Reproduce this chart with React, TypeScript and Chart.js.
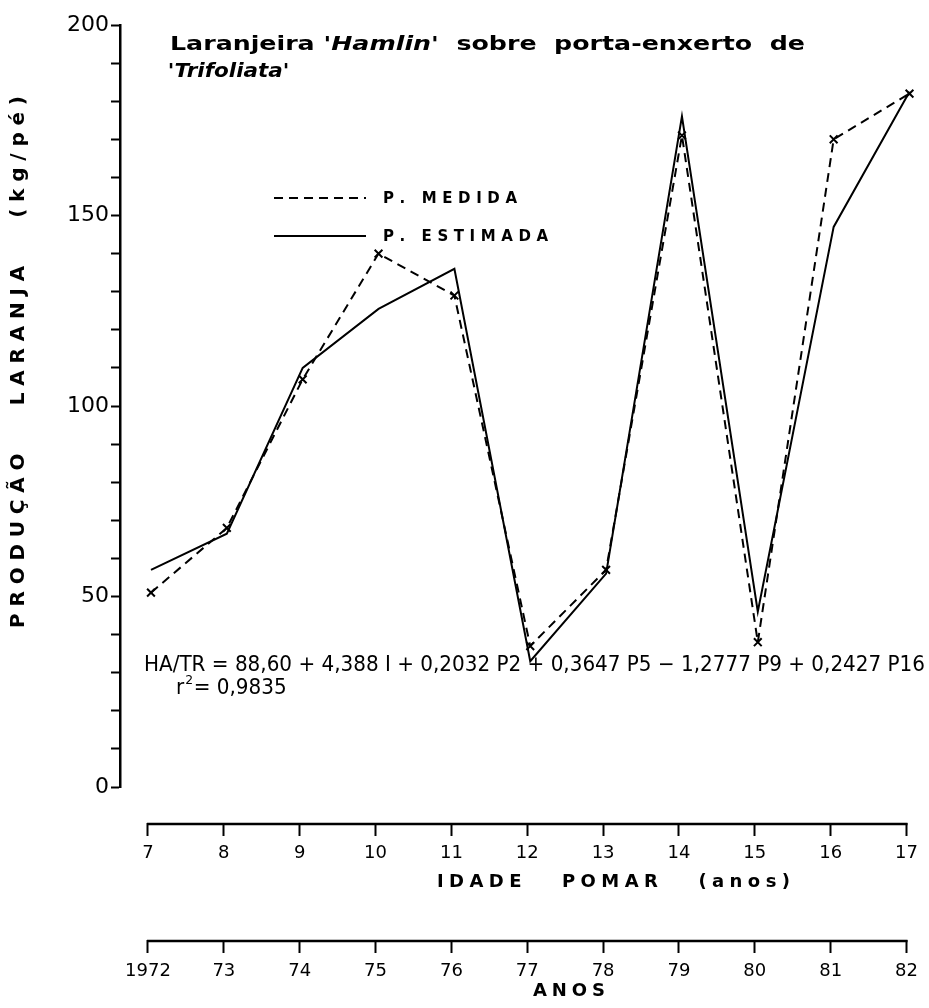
import React, { useEffect, useRef } from 'react';
import { Chart, registerables } from 'chart.js';

Chart.register(...registerables);

// ---- data ----
const ages = [7, 8, 9, 10, 11, 12, 13, 14, 15, 16, 17];
const ageLabels = ['7', '8', '9', '10', '11', '12', '13', '14', '15', '16', '17'];
const years = [1972, 1973, 1974, 1975, 1976, 1977, 1978, 1979, 1980, 1981, 1982];
const yearLabels = ['1972', '73', '74', '75', '76', '77', '78', '79', '80', '81', '82'];
const medida = [51, 68, 107, 140, 129, 37, 57, 171, 38, 170, 182];
const estimada = [57, 66.5, 110, 125.5, 136, 33, 56, 176, 46, 147, 182.5];
const yMajorTicks = [0, 50, 100, 150, 200];
const seriesNames = ['P. MEDIDA', 'P. ESTIMADA'];
const titleParts = [
  { text: 'Laranjeira ', italic: false },
  { text: "'Hamlin'", italic: true },
  { text: '  sobre  porta-enxerto  de', italic: false },
];
const titleLine2 = "'Trifoliata'";
const yTitle = 'PRODUÇÃO   LARANJA   (kg/pé)';
const ageTitle = 'IDADE   POMAR   (anos)';
const yearTitle = 'ANOS';
const equationText = 'HA/TR = 88,60 + 4,388 I + 0,2032 P2 + 0,3647 P5 − 1,2777 P9 + 0,2427 P16';
const r2Value = '= 0,9835';

const FONT = '"DejaVu Sans", sans-serif';

function drawSpacedFit(ctx: CanvasRenderingContext2D, text: string, x: number, y: number, target: number) {
  const chars = Array.from(text);
  const widths = chars.map((c) => ctx.measureText(c).width);
  const natural = widths.reduce((a, b) => a + b, 0);
  const spacing = chars.length > 1 ? (target - natural) / (chars.length - 1) : 0;
  let cx = x;
  chars.forEach((c, i) => {
    ctx.fillText(c, cx, y);
    cx += widths[i] + spacing;
  });
}

const extrasPlugin = {
  id: 'extras',
  afterDraw(chart: any) {
    const ctx: CanvasRenderingContext2D = chart.ctx;
    const ageS = chart.scales.age;
    const yearS = chart.scales.year;
    ctx.save();
    ctx.strokeStyle = '#000';
    ctx.fillStyle = '#000';
    ctx.lineCap = 'butt';

    // bottom axis lines
    ctx.lineWidth = 2.5;
    ([[ageS, ages], [yearS, years]] as any[]).forEach(([s, vals]) => {
      const x0 = s.getPixelForValue(vals[0]);
      const x1 = s.getPixelForValue(vals[vals.length - 1]);
      ctx.beginPath();
      ctx.moveTo(x0 - 1, s.top + 1);
      ctx.lineTo(x1 + 1, s.top + 1);
      ctx.stroke();
    });

    // bottom axis titles
    ctx.textBaseline = 'middle';
    ctx.textAlign = 'left';
    ctx.font = `bold 18px ${FONT}`;
    drawSpacedFit(ctx, ageTitle, 437, ageS.top + 59, 353);
    ctx.font = `bold 18px ${FONT}`;
    drawSpacedFit(ctx, yearTitle, 533, yearS.top + 51, 72);

    // y title (rotated)
    ctx.save();
    ctx.font = `bold 20px ${FONT}`;
    ctx.translate(19, 362);
    ctx.rotate(-Math.PI / 2);
    drawSpacedFit(ctx, yTitle, -266, 0, 532);
    ctx.restore();

    // chart title
    ctx.save();
    let total = 0;
    const fonts = titleParts.map((p) => `${p.italic ? 'italic ' : ''}bold 20px ${FONT}`);
    titleParts.forEach((p, i) => {
      ctx.font = fonts[i];
      total += ctx.measureText(p.text).width;
    });
    const sx = 635 / total;
    ctx.translate(170, 45);
    ctx.scale(sx, 1);
    let cx = 0;
    titleParts.forEach((p, i) => {
      ctx.font = fonts[i];
      ctx.fillText(p.text, cx, 0);
      cx += ctx.measureText(p.text).width;
    });
    ctx.scale(0.85, 1);
    ctx.font = `italic bold 20px ${FONT}`;
    ctx.fillText(titleLine2, -2, 27);
    ctx.restore();

    // legend
    const ds = chart.data.datasets;
    const legendRows = [198, 236];
    const legendWidths = [134, 165];
    legendRows.forEach((ly, i) => {
      ctx.save();
      ctx.lineWidth = 2;
      ctx.setLineDash(ds[i].borderDash || []);
      ctx.beginPath();
      ctx.moveTo(274, ly);
      ctx.lineTo(366, ly);
      ctx.stroke();
      ctx.restore();
      ctx.font = `bold 15px ${FONT}`;
      drawSpacedFit(ctx, seriesNames[i], 383, ly + 1, legendWidths[i]);
    });

    // equation (tall, condensed lettering)
    ctx.save();
    ctx.font = `21px ${FONT}`;
    const ew = ctx.measureText(equationText).width;
    const esx = 781 / ew;
    ctx.translate(144, 666);
    ctx.scale(esx, 1);
    ctx.fillText(equationText, 0, 0);
    ctx.restore();

    // r^2
    ctx.save();
    ctx.translate(176, 689);
    ctx.scale(esx, 1);
    ctx.font = `21px ${FONT}`;
    ctx.fillText('r', 0, 0);
    const rw = ctx.measureText('r').width;
    ctx.font = `13px ${FONT}`;
    ctx.fillText('2', rw + 1, -8);
    ctx.font = `21px ${FONT}`;
    ctx.fillText(r2Value, rw + 10, 0);
    ctx.restore();

    ctx.restore();
  },
};

// pixel placement of the scales (page coordinates)
const AREA_LEFT = 120;
const AREA_RIGHT = 922;
const axisRange = (first: number, last: number, pFirst: number, pLast: number) => {
  const u = (pLast - pFirst) / (last - first);
  const min = first - (pFirst - AREA_LEFT) / u;
  const max = min + (AREA_RIGHT - AREA_LEFT) / u;
  return { min, max };
};

const bottomAxis = (weight: number, range: { min: number; max: number }, values: number[], labels: string[], height: number, padding: number) => ({
  type: 'linear',
  position: 'bottom',
  weight,
  min: range.min,
  max: range.max,
  border: { display: false },
  grid: {
    display: true,
    drawOnChartArea: false,
    drawTicks: true,
    tickLength: 13,
    tickWidth: 2,
    tickColor: '#000',
    color: '#000',
  },
  ticks: {
    stepSize: 1,
    includeBounds: false,
    autoSkip: false,
    maxRotation: 0,
    color: '#000',
    padding,
    font: { family: FONT, size: 18 },
    callback: (v: any) => {
      const i = values.indexOf(Math.round(v));
      return i >= 0 ? labels[i] : '';
    },
  },
  afterFit: (s: any) => {
    s.height = height;
  },
});

const spacer = (weight: number, height: number) => ({
  type: 'linear',
  position: 'bottom',
  weight,
  grid: { display: false },
  border: { display: false },
  ticks: { display: false },
  afterFit: (s: any) => {
    s.height = height;
  },
});

export default function App() {
  const ref = useRef<HTMLCanvasElement | null>(null);

  useEffect(() => {
    if (!ref.current) return;
    const ageRange = axisRange(7, 17, 148, 907);
    const yearRange = axisRange(1972, 1982, 148, 907);
    const dataRange = axisRange(7, 17, 151, 910);

    const chart = new Chart(ref.current, {
      type: 'line',
      data: {
        datasets: [
          {
            label: seriesNames[0],
            data: ages.map((a, i) => ({ x: a, y: medida[i] })),
            borderColor: '#000',
            backgroundColor: '#000',
            borderWidth: 2,
            borderDash: [9, 6],
            pointStyle: 'crossRot',
            pointRadius: 5.5,
            pointBorderWidth: 2,
            pointBorderColor: '#000',
            tension: 0,
            fill: false,
          },
          {
            label: seriesNames[1],
            data: ages.map((a, i) => ({ x: a, y: estimada[i] })),
            borderColor: '#000',
            backgroundColor: '#000',
            borderWidth: 2,
            pointRadius: 0,
            tension: 0,
            fill: false,
          },
        ],
      },
      options: {
        animation: false,
        responsive: false,
        maintainAspectRatio: false,
        layout: { padding: { left: 0, right: 929 - AREA_RIGHT, top: 25, bottom: 0 } },
        plugins: {
          legend: { display: false },
          tooltip: { enabled: false },
          title: { display: false },
        },
        scales: {
          x: { type: 'linear', display: false, min: dataRange.min, max: dataRange.max },
          y: {
            type: 'linear',
            position: 'left',
            min: 0,
            max: 200,
            afterFit: (s: any) => {
              s.width = AREA_LEFT;
            },
            border: { display: true, color: '#000', width: 2.5 },
            grid: {
              display: true,
              drawOnChartArea: false,
              drawTicks: true,
              tickLength: 9,
              tickWidth: 2,
              tickColor: '#000',
              color: '#000',
            },
            ticks: {
              stepSize: 10,
              autoSkip: false,
              color: '#000',
              padding: 2,
              font: { family: FONT, size: 22 },
              callback: (v: any) => (yMajorTicks.includes(Math.round(v)) ? String(Math.round(v)) : ''),
            },
          },
          gap1: spacer(1, 36),
          age: bottomAxis(2, ageRange, ages, ageLabels, 82, 7),
          gap2: spacer(3, 35),
          year: bottomAxis(4, yearRange, years, yearLabels, 68, 8),
        },
      } as any,
      plugins: [extrasPlugin],
    });
    return () => chart.destroy();
  }, []);

  return (
    <div style={{ position: 'absolute', left: 0, top: 0, width: 929, height: 1008, background: '#fff' }}>
      <canvas ref={ref} width={929} height={1008} style={{ display: 'block', width: 929, height: 1008 }} />
    </div>
  );
}
